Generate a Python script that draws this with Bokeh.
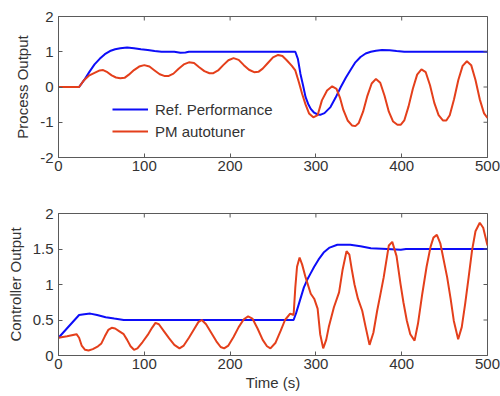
import math
from bokeh.plotting import figure
from bokeh.layouts import column
from bokeh.models import (Range1d, FixedTicker, NumeralTickFormatter, Legend, LegendItem)
from bokeh.embed import file_html
from bokeh.resources import INLINE

# ---------------- data ----------------
# Top panel: process output
t_ref_po = [0, 24, 30, 36, 42, 48, 54, 60, 66, 72, 80, 88, 96, 104, 112, 120, 135, 142, 148, 152,
            276, 279, 282, 285, 288, 291, 294, 298, 302, 305, 310, 317, 323, 329, 335, 340, 346,
            352, 358, 364, 370, 377, 386, 394, 403, 500]
y_ref_po = [0, 0, 0.2, 0.43, 0.64, 0.8, 0.93, 1.02, 1.07, 1.1, 1.12, 1.1, 1.07, 1.05, 1.02, 1.0,
            1.0, 0.97, 0.98, 1.0, 1.0, 0.8, 0.37, 0.05, -0.29, -0.48, -0.62, -0.73, -0.78, -0.79,
            -0.74, -0.57, -0.3, 0.0, 0.27, 0.47, 0.7, 0.85, 0.95, 1.0, 1.03, 1.05, 1.04, 1.02,
            1.0, 1.0]

t_pm_po = [0, 24, 30, 36, 42, 48, 52, 57, 62, 67, 72, 77, 82, 88, 94, 100, 106, 112, 118, 124,
           128, 134, 140, 146, 152, 158, 164, 170, 176, 180, 186, 192, 198, 204, 210, 216, 222,
           228, 233, 238, 244, 250, 256, 261, 266, 272, 276, 280, 284, 288, 292, 297, 302, 307,
           313, 319, 324, 328, 332, 337, 342, 346, 350, 355, 360, 365, 370, 375, 380, 385, 390,
           395, 399, 403, 408, 413, 418, 423, 428, 433, 438, 443, 448, 452, 456, 461, 466, 471,
           476, 481, 486, 491, 496, 500]
y_pm_po = [0, 0, 0.2, 0.33, 0.40, 0.47, 0.48, 0.42, 0.33, 0.27, 0.25, 0.26, 0.35, 0.48, 0.58,
           0.62, 0.58, 0.47, 0.36, 0.31, 0.31, 0.38, 0.52, 0.64, 0.70, 0.68, 0.56, 0.45, 0.39,
           0.39, 0.47, 0.62, 0.76, 0.82, 0.77, 0.62, 0.49, 0.42, 0.43, 0.52, 0.68, 0.84, 0.91,
           0.88, 0.76, 0.60, 0.47, 0.15, -0.2, -0.5, -0.75, -0.86, -0.80, -0.38, -0.1, 0.02,
           -0.05, -0.3, -0.65, -0.95, -1.09, -1.11, -1.02, -0.7, -0.25, 0.1, 0.23, 0.12, -0.25,
           -0.7, -0.98, -1.07, -1.07, -0.95, -0.55, -0.05, 0.35, 0.5, 0.42, 0.05, -0.45, -0.8,
           -0.95, -0.95, -0.8, -0.35, 0.2, 0.6, 0.73, 0.62, 0.2, -0.35, -0.75, -0.88]

# Bottom panel: controller output
t_ref_co = [0, 24, 30, 37, 45, 55, 65, 76, 274, 277, 280, 283, 286, 290, 294, 298, 303, 309,
            316, 325, 340, 352, 364, 383, 399, 405, 500]
y_ref_co = [0.25, 0.57, 0.58, 0.59, 0.57, 0.54, 0.52, 0.50, 0.50, 0.60, 0.72, 0.84, 0.96, 1.07,
            1.16, 1.25, 1.35, 1.45, 1.52, 1.56, 1.56, 1.54, 1.51, 1.50, 1.49, 1.5, 1.5]

t_pm_co = [0, 10, 21, 24, 27, 31, 35, 40, 46, 50, 54, 58, 62, 66, 71, 76, 80, 84, 88, 92, 98,
           104, 109, 113, 117, 123, 129, 135, 141, 146, 152, 158, 163, 167, 172, 178, 184, 189,
           193, 198, 204, 210, 216, 221, 226, 232, 238, 243, 247, 253, 259, 264, 270, 274, 276,
           278, 281, 284, 288, 294, 298, 302, 305, 308.5, 312, 315, 321, 327, 331, 335.7, 339,
           342, 345, 349, 354, 358, 362.5, 367, 371.4, 375, 379, 385, 389, 394, 398.6, 402, 406,
           410, 415, 419, 424, 429, 433.6, 437, 441, 445, 453, 457, 460.7, 465.8, 470, 474, 478,
           482, 486, 491, 495, 500]
y_pm_co = [0.25, 0.27, 0.30, 0.25, 0.14, 0.08, 0.07, 0.09, 0.13, 0.17, 0.27, 0.36, 0.39, 0.38,
           0.34, 0.30, 0.22, 0.13, 0.08, 0.10, 0.19, 0.29, 0.39, 0.46, 0.44, 0.34, 0.24, 0.15,
           0.10, 0.14, 0.25, 0.37, 0.47, 0.50, 0.44, 0.32, 0.20, 0.12, 0.10, 0.14, 0.26, 0.40,
           0.51, 0.55, 0.52, 0.38, 0.22, 0.13, 0.10, 0.18, 0.35, 0.50, 0.59, 0.57, 0.96, 1.25,
           1.38, 1.28, 1.10, 0.87, 0.80, 0.66, 0.30, 0.10, 0.22, 0.40, 0.68, 0.89, 1.2, 1.47,
           1.42, 1.2, 1.0, 0.8, 0.63, 0.4, 0.15, 0.32, 0.63, 0.85, 1.1, 1.55, 1.6, 1.4, 1.01,
           0.75, 0.49, 0.3, 0.21, 0.45, 0.87, 1.25, 1.53, 1.66, 1.70, 1.58, 1.1, 0.8, 0.49, 0.23,
           0.4, 0.73, 1.1, 1.48, 1.75, 1.87, 1.8, 1.55]

for a, b in [(t_ref_po, y_ref_po), (t_pm_po, y_pm_po), (t_ref_co, y_ref_co), (t_pm_co, y_pm_co)]:
    assert len(a) == len(b), (len(a), len(b))

series_labels = ["Ref. Performance", "PM autotuner"]
x_ticks = [0, 100, 200, 300, 400, 500]
y_ticks_top = [-2, -1, 0, 1, 2]
y_ticks_bot = [0, 0.5, 1, 1.5, 2]

# ---------------- styling ----------------
BLUE = "#0D0DF8"
RED = "#E43F1B"
FONT = "Liberation Sans"
TXT = "#333333"
FRAME = "#5a5a5a"


def style(p, ylabel, y_ticks, xr, yr):
    p.xgrid.visible = False
    p.ygrid.visible = False
    p.outline_line_color = FRAME
    p.outline_line_width = 1
    for ax in p.xaxis + p.yaxis:
        ax.axis_line_color = FRAME
        ax.major_tick_line_color = FRAME
        ax.major_tick_in = 4
        ax.major_tick_out = 0
        ax.minor_tick_line_color = None
        ax.major_label_text_font = FONT
        ax.major_label_text_font_size = "15px"
        ax.major_label_text_color = TXT
        ax.axis_label_text_font = FONT
        ax.axis_label_text_font_size = "15px"
        ax.axis_label_text_font_style = "normal"
        ax.axis_label_text_color = TXT
    p.xaxis.ticker = FixedTicker(ticks=x_ticks)
    p.yaxis.ticker = FixedTicker(ticks=y_ticks)
    p.yaxis.formatter = NumeralTickFormatter(format="0.[0]")
    p.yaxis.major_label_standoff = 5
    p.xaxis.major_label_standoff = 3
    p.yaxis.axis_label = ylabel
    p.yaxis.axis_label_standoff = 6
    # mirrored inward ticks on the top and right edges (clipped to the frame)
    p.scatter(x_ticks, [yr[1]] * len(x_ticks), marker="dash", size=8, angle=math.pi / 2,
              line_color=FRAME, line_width=1)
    p.scatter([xr[1]] * len(y_ticks), y_ticks, marker="dash", size=8,
              line_color=FRAME, line_width=1)


XR = (0, 500)
YR_TOP = (-2, 2)
YR_BOT = (0, 2)

p1 = figure(width=500, height=196, x_range=Range1d(*XR), y_range=Range1d(*YR_TOP),
            output_backend="svg", toolbar_location=None,
            min_border_left=58, min_border_right=13, min_border_top=16, min_border_bottom=39)
r1 = p1.line(t_ref_po, y_ref_po, line_color=BLUE, line_width=2)
r2 = p1.line(t_pm_po, y_pm_po, line_color=RED, line_width=2)
style(p1, "Process Output", y_ticks_top, XR, YR_TOP)

legend = Legend(items=[LegendItem(label=series_labels[0], renderers=[r1]),
                       LegendItem(label=series_labels[1], renderers=[r2])],
                location=(54, 16), border_line_color=None, background_fill_alpha=0,
                padding=0, margin=0, spacing=2, glyph_width=36, glyph_height=20,
                label_height=20, label_standoff=7, label_text_font=FONT,
                label_text_font_size="15px", label_text_color=TXT)
p1.add_layout(legend)

p2 = figure(width=500, height=200, x_range=Range1d(*XR), y_range=Range1d(*YR_BOT),
            output_backend="svg", toolbar_location=None,
            min_border_left=58, min_border_right=13, min_border_top=17, min_border_bottom=41)
p2.line(t_ref_co, y_ref_co, line_color=BLUE, line_width=2)
p2.line(t_pm_co, y_pm_co, line_color=RED, line_width=2)
style(p2, "Controller Output", y_ticks_bot, XR, YR_BOT)
p2.below[0].axis_label = "Time (s)"
p2.below[0].axis_label_standoff = 2

layout = column(p1, p2, spacing=0)

open("out.html", "w").write(file_html(layout, INLINE))
